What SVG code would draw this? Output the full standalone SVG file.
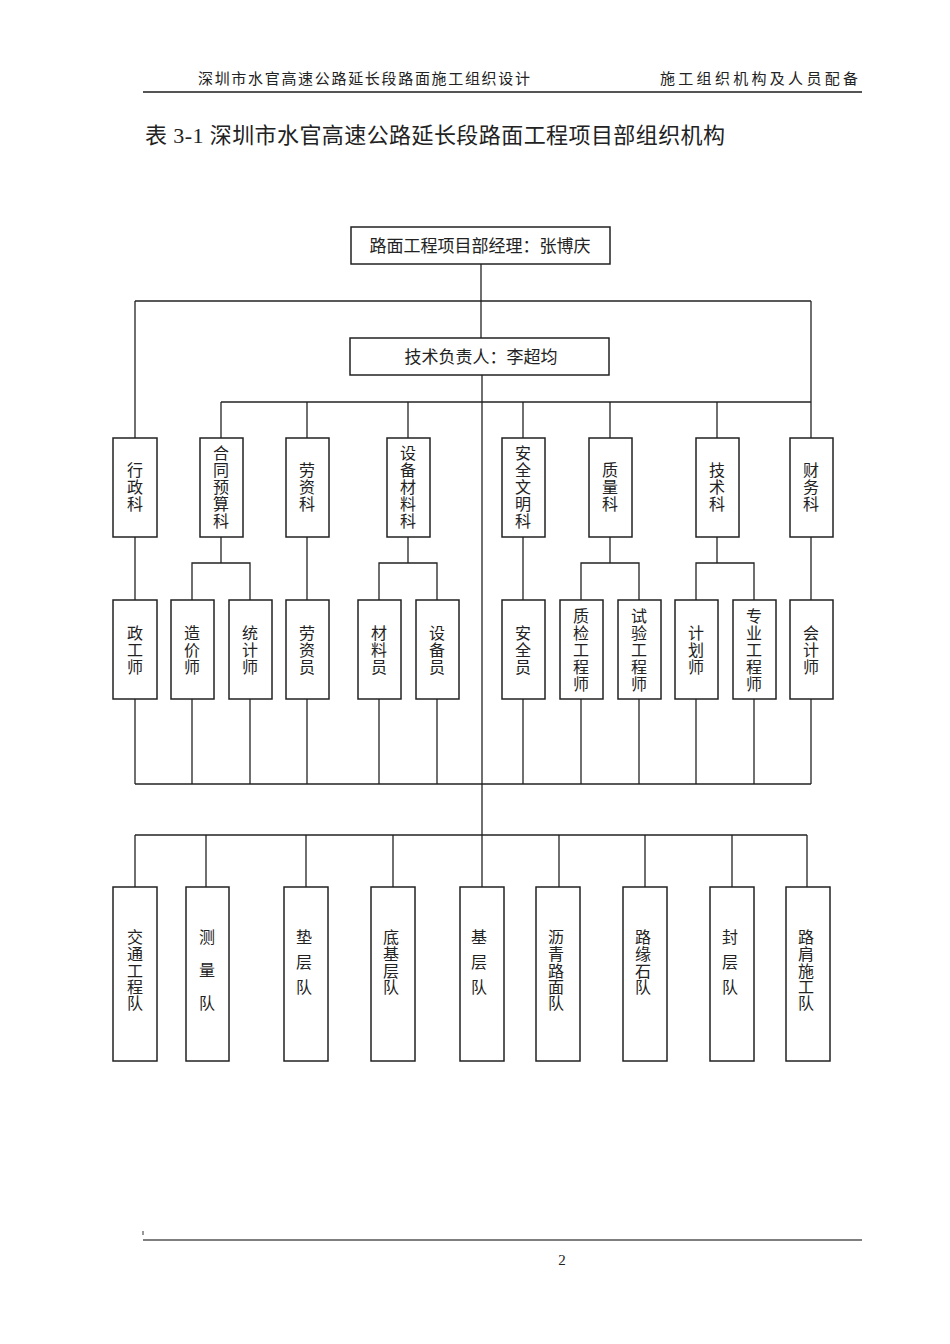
<svg xmlns="http://www.w3.org/2000/svg" width="950" height="1344" viewBox="0 0 950 1344">
<style>
text{font-family:"Liberation Serif","Noto Sans CJK SC",serif;fill:#222}
.b{fill:#fff;stroke:#222;stroke-width:1.5}
.c line,.c polyline{stroke:#222;stroke-width:1.3;fill:none}
.v{font-size:16px;text-anchor:middle;dominant-baseline:central}
.h{font-size:17px;text-anchor:middle;dominant-baseline:central}
</style>
<rect width="950" height="1344" fill="#fff"/>
<g id="header">
<text x="198" y="84" font-size="15" textLength="332">深圳市水官高速公路延长段路面施工组织设计</text>
<text x="660" y="84" font-size="15" textLength="198">施工组织机构及人员配备</text>
<line x1="143" y1="92" x2="862" y2="92" stroke="#555" stroke-width="2"/>
<text x="145" y="143" font-size="22" textLength="580">表 3-1 深圳市水官高速公路延长段路面工程项目部组织机构</text>
</g>
<g class="c" id="connectors">
<line x1="481" y1="264" x2="481" y2="338"/>
<line x1="135" y1="301" x2="811" y2="301"/>
<line x1="135" y1="301" x2="135" y2="438"/>
<line x1="811" y1="301" x2="811" y2="438"/>
<line x1="482" y1="375" x2="482" y2="887"/>
<line x1="221" y1="402" x2="811" y2="402"/>
<line x1="221" y1="402" x2="221" y2="438"/>
<line x1="307" y1="402" x2="307" y2="438"/>
<line x1="408" y1="402" x2="408" y2="438"/>
<line x1="523" y1="402" x2="523" y2="438"/>
<line x1="610" y1="402" x2="610" y2="438"/>
<line x1="717" y1="402" x2="717" y2="438"/>
<line x1="135" y1="537" x2="135" y2="600"/>
<line x1="307" y1="537" x2="307" y2="600"/>
<line x1="523" y1="537" x2="523" y2="600"/>
<line x1="811" y1="537" x2="811" y2="600"/>
<line x1="221" y1="537" x2="221" y2="563"/>
<polyline points="192,600 192,563 250,563 250,600"/>
<line x1="408" y1="537" x2="408" y2="563"/>
<polyline points="379,600 379,563 437,563 437,600"/>
<line x1="610" y1="537" x2="610" y2="563"/>
<polyline points="581,600 581,563 639,563 639,600"/>
<line x1="717" y1="537" x2="717" y2="563"/>
<polyline points="696,600 696,563 754,563 754,600"/>
<line x1="135" y1="699" x2="135" y2="784"/>
<line x1="192" y1="699" x2="192" y2="784"/>
<line x1="250" y1="699" x2="250" y2="784"/>
<line x1="307" y1="699" x2="307" y2="784"/>
<line x1="379" y1="699" x2="379" y2="784"/>
<line x1="437" y1="699" x2="437" y2="784"/>
<line x1="523" y1="699" x2="523" y2="784"/>
<line x1="581" y1="699" x2="581" y2="784"/>
<line x1="639" y1="699" x2="639" y2="784"/>
<line x1="696" y1="699" x2="696" y2="784"/>
<line x1="754" y1="699" x2="754" y2="784"/>
<line x1="811" y1="699" x2="811" y2="784"/>
<line x1="135" y1="784" x2="811" y2="784"/>
<line x1="135" y1="835" x2="807" y2="835"/>
<line x1="135" y1="835" x2="135" y2="887"/>
<line x1="206" y1="835" x2="206" y2="887"/>
<line x1="306" y1="835" x2="306" y2="887"/>
<line x1="393" y1="835" x2="393" y2="887"/>
<line x1="559" y1="835" x2="559" y2="887"/>
<line x1="645" y1="835" x2="645" y2="887"/>
<line x1="732" y1="835" x2="732" y2="887"/>
<line x1="807" y1="835" x2="807" y2="887"/>
</g>
<g id="n_mgr"><rect class="b" x="351" y="227" width="259" height="37"/><text class="h" x="480" y="246">路面工程项目部经理：张博庆</text></g>
<g id="n_tech"><rect class="b" x="350" y="338" width="259" height="37"/><text class="h" x="481" y="357">技术负责人：李超均</text></g>
<g id="n_xzk"><rect class="b" x="113" y="438" width="44" height="99"/><text class="v" x="135"><tspan x="135" y="470">行</tspan><tspan x="135" y="487">政</tspan><tspan x="135" y="504">科</tspan></text></g>
<g id="n_htk"><rect class="b" x="200" y="438" width="43" height="99"/><text class="v"><tspan x="221" y="453">合</tspan><tspan x="221" y="470">同</tspan><tspan x="221" y="487">预</tspan><tspan x="221" y="504">算</tspan><tspan x="221" y="521">科</tspan></text></g>
<g id="n_lzk"><rect class="b" x="286" y="438" width="43" height="99"/><text class="v"><tspan x="307" y="470">劳</tspan><tspan x="307" y="487">资</tspan><tspan x="307" y="504">科</tspan></text></g>
<g id="n_sbk"><rect class="b" x="387" y="438" width="43" height="99"/><text class="v"><tspan x="408" y="453">设</tspan><tspan x="408" y="470">备</tspan><tspan x="408" y="487">材</tspan><tspan x="408" y="504">料</tspan><tspan x="408" y="521">科</tspan></text></g>
<g id="n_aqk"><rect class="b" x="502" y="438" width="43" height="99"/><text class="v"><tspan x="523" y="453">安</tspan><tspan x="523" y="470">全</tspan><tspan x="523" y="487">文</tspan><tspan x="523" y="504">明</tspan><tspan x="523" y="521">科</tspan></text></g>
<g id="n_zlk"><rect class="b" x="589" y="438" width="43" height="99"/><text class="v"><tspan x="610" y="470">质</tspan><tspan x="610" y="487">量</tspan><tspan x="610" y="504">科</tspan></text></g>
<g id="n_jsk"><rect class="b" x="696" y="438" width="43" height="99"/><text class="v"><tspan x="717" y="470">技</tspan><tspan x="717" y="487">术</tspan><tspan x="717" y="504">科</tspan></text></g>
<g id="n_cwk"><rect class="b" x="790" y="438" width="43" height="99"/><text class="v"><tspan x="811" y="470">财</tspan><tspan x="811" y="487">务</tspan><tspan x="811" y="504">科</tspan></text></g>
<g id="n_zgs"><rect class="b" x="113" y="600" width="44" height="99"/><text class="v"><tspan x="135" y="633">政</tspan><tspan x="135" y="650">工</tspan><tspan x="135" y="667">师</tspan></text></g>
<g id="n_zjs"><rect class="b" x="171" y="600" width="43" height="99"/><text class="v"><tspan x="192" y="633">造</tspan><tspan x="192" y="650">价</tspan><tspan x="192" y="667">师</tspan></text></g>
<g id="n_tjs"><rect class="b" x="229" y="600" width="43" height="99"/><text class="v"><tspan x="250" y="633">统</tspan><tspan x="250" y="650">计</tspan><tspan x="250" y="667">师</tspan></text></g>
<g id="n_lzy"><rect class="b" x="286" y="600" width="43" height="99"/><text class="v"><tspan x="307" y="633">劳</tspan><tspan x="307" y="650">资</tspan><tspan x="307" y="667">员</tspan></text></g>
<g id="n_cly"><rect class="b" x="358" y="600" width="43" height="99"/><text class="v"><tspan x="379" y="633">材</tspan><tspan x="379" y="650">料</tspan><tspan x="379" y="667">员</tspan></text></g>
<g id="n_sby"><rect class="b" x="416" y="600" width="43" height="99"/><text class="v"><tspan x="437" y="633">设</tspan><tspan x="437" y="650">备</tspan><tspan x="437" y="667">员</tspan></text></g>
<g id="n_aqy"><rect class="b" x="502" y="600" width="43" height="99"/><text class="v"><tspan x="523" y="633">安</tspan><tspan x="523" y="650">全</tspan><tspan x="523" y="667">员</tspan></text></g>
<g id="n_zjgcs"><rect class="b" x="560" y="600" width="43" height="99"/><text class="v"><tspan x="581" y="616">质</tspan><tspan x="581" y="633">检</tspan><tspan x="581" y="650">工</tspan><tspan x="581" y="667">程</tspan><tspan x="581" y="684">师</tspan></text></g>
<g id="n_sygcs"><rect class="b" x="618" y="600" width="43" height="99"/><text class="v"><tspan x="639" y="616">试</tspan><tspan x="639" y="633">验</tspan><tspan x="639" y="650">工</tspan><tspan x="639" y="667">程</tspan><tspan x="639" y="684">师</tspan></text></g>
<g id="n_jhs"><rect class="b" x="675" y="600" width="43" height="99"/><text class="v"><tspan x="696" y="633">计</tspan><tspan x="696" y="650">划</tspan><tspan x="696" y="667">师</tspan></text></g>
<g id="n_zygcs"><rect class="b" x="733" y="600" width="43" height="99"/><text class="v"><tspan x="754" y="616">专</tspan><tspan x="754" y="633">业</tspan><tspan x="754" y="650">工</tspan><tspan x="754" y="667">程</tspan><tspan x="754" y="684">师</tspan></text></g>
<g id="n_kjs"><rect class="b" x="790" y="600" width="43" height="99"/><text class="v"><tspan x="811" y="633">会</tspan><tspan x="811" y="650">计</tspan><tspan x="811" y="667">师</tspan></text></g>
<g id="n_jtd"><rect class="b" x="113" y="887" width="44" height="174"/><text class="v"><tspan x="135" y="937">交</tspan><tspan x="135" y="954">通</tspan><tspan x="135" y="971">工</tspan><tspan x="135" y="987">程</tspan><tspan x="135" y="1003">队</tspan></text></g>
<g id="n_cld"><rect class="b" x="186" y="887" width="43" height="174"/><text class="v"><tspan x="207" y="937">测</tspan><tspan x="207" y="970">量</tspan><tspan x="207" y="1003">队</tspan></text></g>
<g id="n_dcd"><rect class="b" x="284" y="887" width="44" height="174"/><text class="v"><tspan x="304" y="937">垫</tspan><tspan x="304" y="962">层</tspan><tspan x="304" y="987">队</tspan></text></g>
<g id="n_djcd"><rect class="b" x="371" y="887" width="44" height="174"/><text class="v"><tspan x="391" y="937">底</tspan><tspan x="391" y="954">基</tspan><tspan x="391" y="971">层</tspan><tspan x="391" y="987">队</tspan></text></g>
<g id="n_jcd"><rect class="b" x="460" y="887" width="44" height="174"/><text class="v"><tspan x="479" y="937">基</tspan><tspan x="479" y="962">层</tspan><tspan x="479" y="987">队</tspan></text></g>
<g id="n_lqd"><rect class="b" x="536" y="887" width="44" height="174"/><text class="v"><tspan x="556" y="937">沥</tspan><tspan x="556" y="954">青</tspan><tspan x="556" y="971">路</tspan><tspan x="556" y="987">面</tspan><tspan x="556" y="1003">队</tspan></text></g>
<g id="n_lysd"><rect class="b" x="623" y="887" width="44" height="174"/><text class="v"><tspan x="643" y="937">路</tspan><tspan x="643" y="954">缘</tspan><tspan x="643" y="971">石</tspan><tspan x="643" y="987">队</tspan></text></g>
<g id="n_fcd"><rect class="b" x="710" y="887" width="44" height="174"/><text class="v"><tspan x="730" y="937">封</tspan><tspan x="730" y="962">层</tspan><tspan x="730" y="987">队</tspan></text></g>
<g id="n_ljd"><rect class="b" x="786" y="887" width="44" height="174"/><text class="v"><tspan x="806" y="937">路</tspan><tspan x="806" y="954">肩</tspan><tspan x="806" y="971">施</tspan><tspan x="806" y="987">工</tspan><tspan x="806" y="1003">队</tspan></text></g>
<g id="footer">
<line x1="143" y1="1231" x2="143" y2="1235" stroke="#333" stroke-width="1"/>
<line x1="143" y1="1240" x2="862" y2="1240" stroke="#555" stroke-width="1.5"/>
<text x="562" y="1265" font-size="15" text-anchor="middle">2</text>
</g>
</svg>
